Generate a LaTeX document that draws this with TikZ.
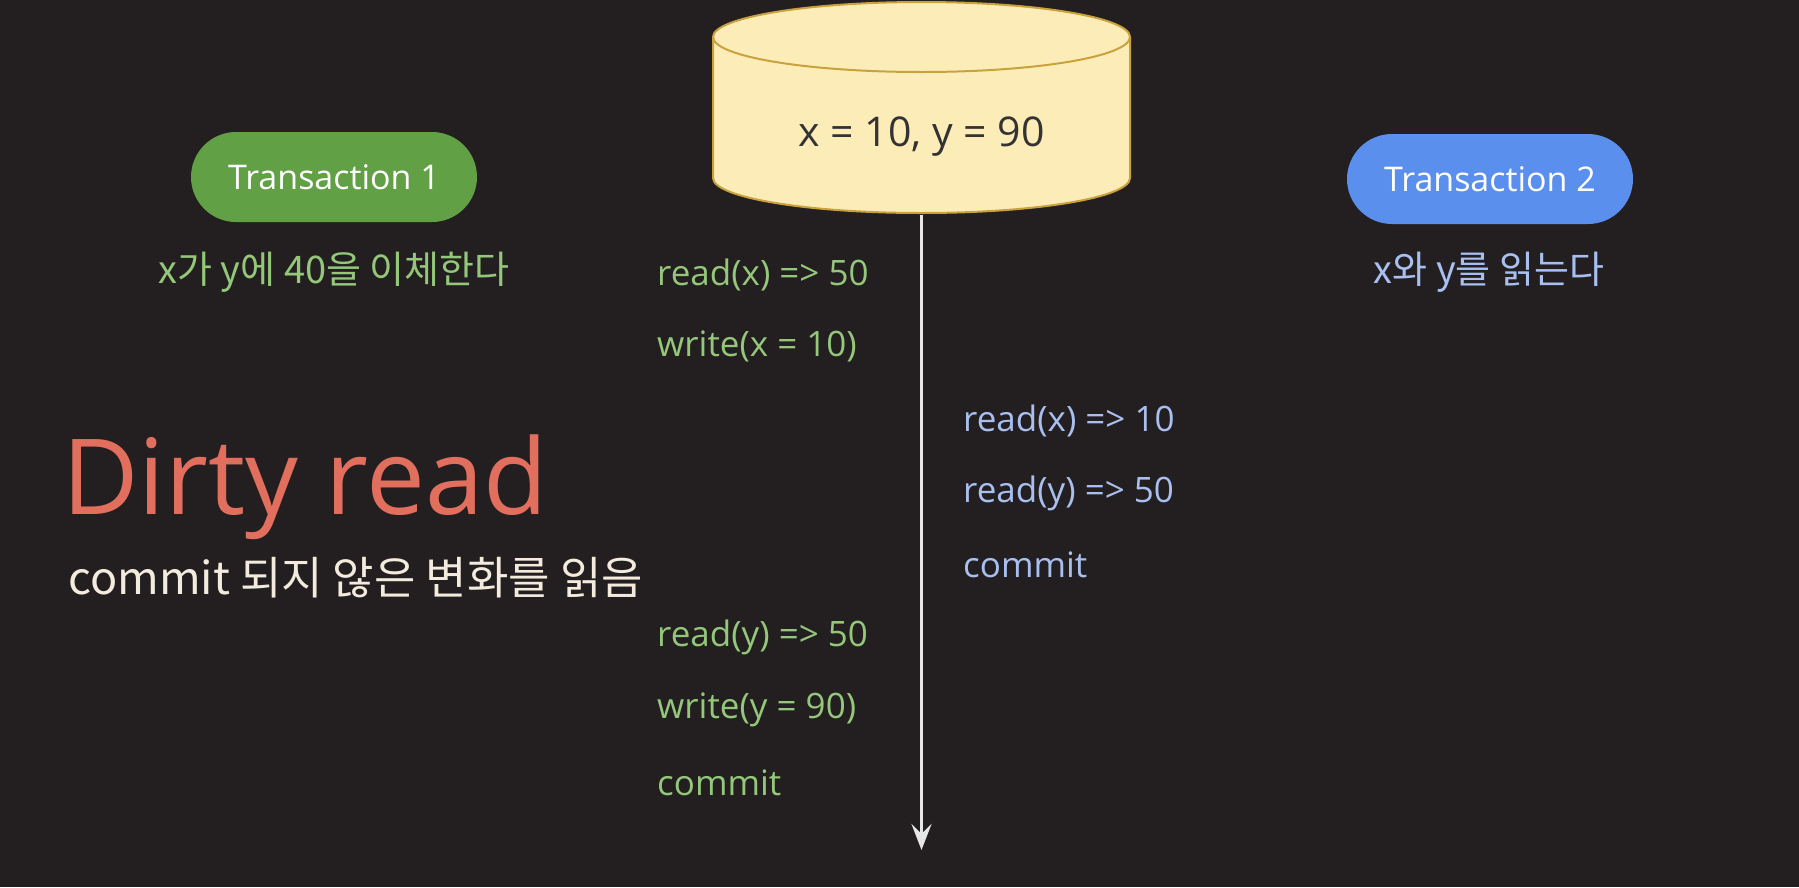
\documentclass[tikz,border=0pt]{standalone}
\usepackage{fontspec}
\setmainfont{Open Sans}
\newfontfamily\cjk{Noto Sans CJK KR}
\usetikzlibrary{arrows.meta}
\definecolor{bgc}{HTML}{231F20}
\definecolor{pillgreen}{HTML}{62A046}
\definecolor{pillblue}{HTML}{5A8FEE}
\definecolor{txtgreen}{HTML}{94C77A}
\definecolor{txtblue}{HTML}{A8BFEF}
\definecolor{dirty}{HTML}{E26F5E}
\definecolor{subt}{HTML}{F3EBDD}
\definecolor{dbfill}{HTML}{FCEDB8}
\definecolor{dbline}{HTML}{C9A23E}
\definecolor{axis}{HTML}{E6E6E6}
\tikzset{
  pill/.style={rectangle, rounded corners=45pt, minimum width=286pt, minimum height=90pt, text=white, font=\fontsize{34}{40}\selectfont},
  opg/.style={anchor=west, text=txtgreen, font=\fontsize{35}{40}\selectfont, inner sep=0pt},
  opb/.style={anchor=west, text=txtblue, font=\fontsize{35}{40}\selectfont, inner sep=0pt},
  desc/.style={font=\cjk\fontsize{38}{42}\selectfont, inner sep=0pt}
}
\begin{document}
\begin{tikzpicture}[x=1pt,y=-1pt]
\fill[bgc] (0,0) rectangle (1799,887);
\useasboundingbox (0,0) rectangle (1799,887);
% database cylinder
\filldraw[fill=dbfill, draw=dbline, line width=2pt]
  (713,37) -- (713,178) arc[start angle=180, end angle=0, x radius=208.5, y radius=35]
  -- (1130,37) arc[start angle=0, end angle=-180, x radius=208.5, y radius=35] -- cycle;
\draw[dbline, line width=2pt] (713,37) arc[start angle=180, end angle=0, x radius=208.5, y radius=35];
\node[text=black!80, font=\fontsize{41}{46}\selectfont] (db) at (921.5,137) {x = 10, y = 90};
\coordinate (dbbot) at (921.5,215);
\coordinate (tend) at (921.5,850);
\draw[axis, line width=3.5pt, -{Stealth[length=26pt, width=20pt, inset=10pt]}] (dbbot) -- (tend);
% transactions
\node[pill, fill=pillgreen] (t1) at (334,177) {Transaction 1};
\node[pill, fill=pillblue] (t2) at (1490,179) {Transaction 2};
\node[desc, text=txtgreen] (d1) at (334,272) {x가 y에 40을 이체한다};
\node[desc, text=txtblue] (d2) at (1489,272) {x와 y를 읽는다};
% title
\node[anchor=west, text=dirty, font=\fontsize{105}{115}\selectfont, inner sep=0pt] (title) at (62,487) {Dirty read};
\node[anchor=west, text=subt, font=\cjk\fontsize{45}{50}\selectfont, inner sep=0pt] (sub) at (68,578) {commit 되지 않은 변화를 읽음};
% transaction 1 ops
\node[opg] (g1) at (657,275) {read(x) => 50};
\node[opg] (g2) at (657,346) {write(x = 10)};
\node[opg] (g3) at (657,637) {read(y) => 50};
\node[opg] (g4) at (657,710) {write(y = 90)};
\node[opg] (g5) at (657,783) {commit};
% transaction 2 ops
\node[opb] (b1) at (963,421) {read(x) => 10};
\node[opb] (b2) at (963,493) {read(y) => 50};
\node[opb] (b3) at (963,565) {commit};
\end{tikzpicture}
\end{document}
